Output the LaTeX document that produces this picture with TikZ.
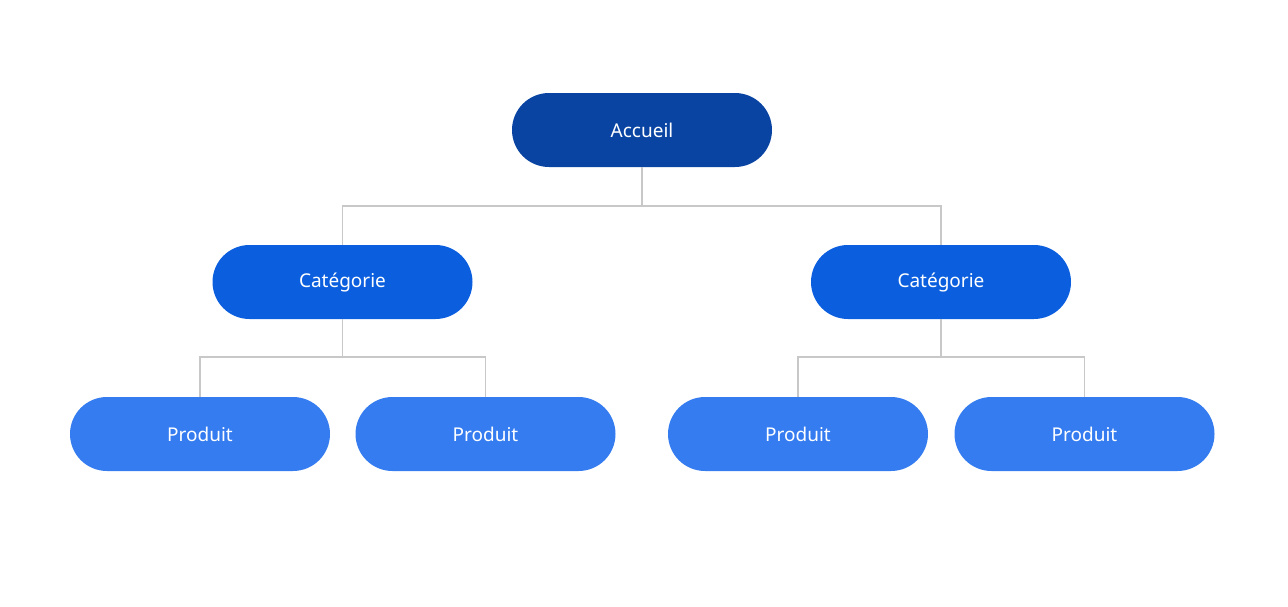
\documentclass[tikz,border=0pt]{standalone}
\usepackage{fontspec}
\setmainfont{Noto Sans}
\definecolor{cA}{HTML}{0A44A3}
\definecolor{cC}{HTML}{0B5FDF}
\definecolor{cP}{HTML}{347CF0}
\definecolor{ln}{HTML}{C8C8C8}
\begin{document}
\begin{tikzpicture}[x=1pt,y=-1pt,
  pill/.style={rounded corners=37pt,minimum width=260pt,minimum height=74pt,text=white,font=\fontsize{19}{22}\selectfont,inner sep=0pt},
  conn/.style={draw=ln,line width=1.3pt}]
\useasboundingbox (0,0) rectangle (1288,606);
\node[pill,fill=cA] (a) at (642,130) {Accueil};
\node[pill,fill=cC] (c1) at (342.5,282) {Catégorie};
\node[pill,fill=cC] (c2) at (941,282) {Catégorie};
\node[pill,fill=cP] (p1) at (200,434) {Produit};
\node[pill,fill=cP] (p2) at (485.5,434) {Produit};
\node[pill,fill=cP] (p3) at (798,434) {Produit};
\node[pill,fill=cP] (p4) at (1084.5,434) {Produit};
\coordinate (ya) at (0,206);
\coordinate (yb) at (0,357);
\draw[conn] (a.south) |- (ya -| c1) -- (c1.north);
\draw[conn] (a.south) |- (ya -| c2) -- (c2.north);
\draw[conn] (c1.south) |- (yb -| p1) -- (p1.north);
\draw[conn] (c1.south) |- (yb -| p2) -- (p2.north);
\draw[conn] (c2.south) |- (yb -| p3) -- (p3.north);
\draw[conn] (c2.south) |- (yb -| p4) -- (p4.north);
\end{tikzpicture}
\end{document}
